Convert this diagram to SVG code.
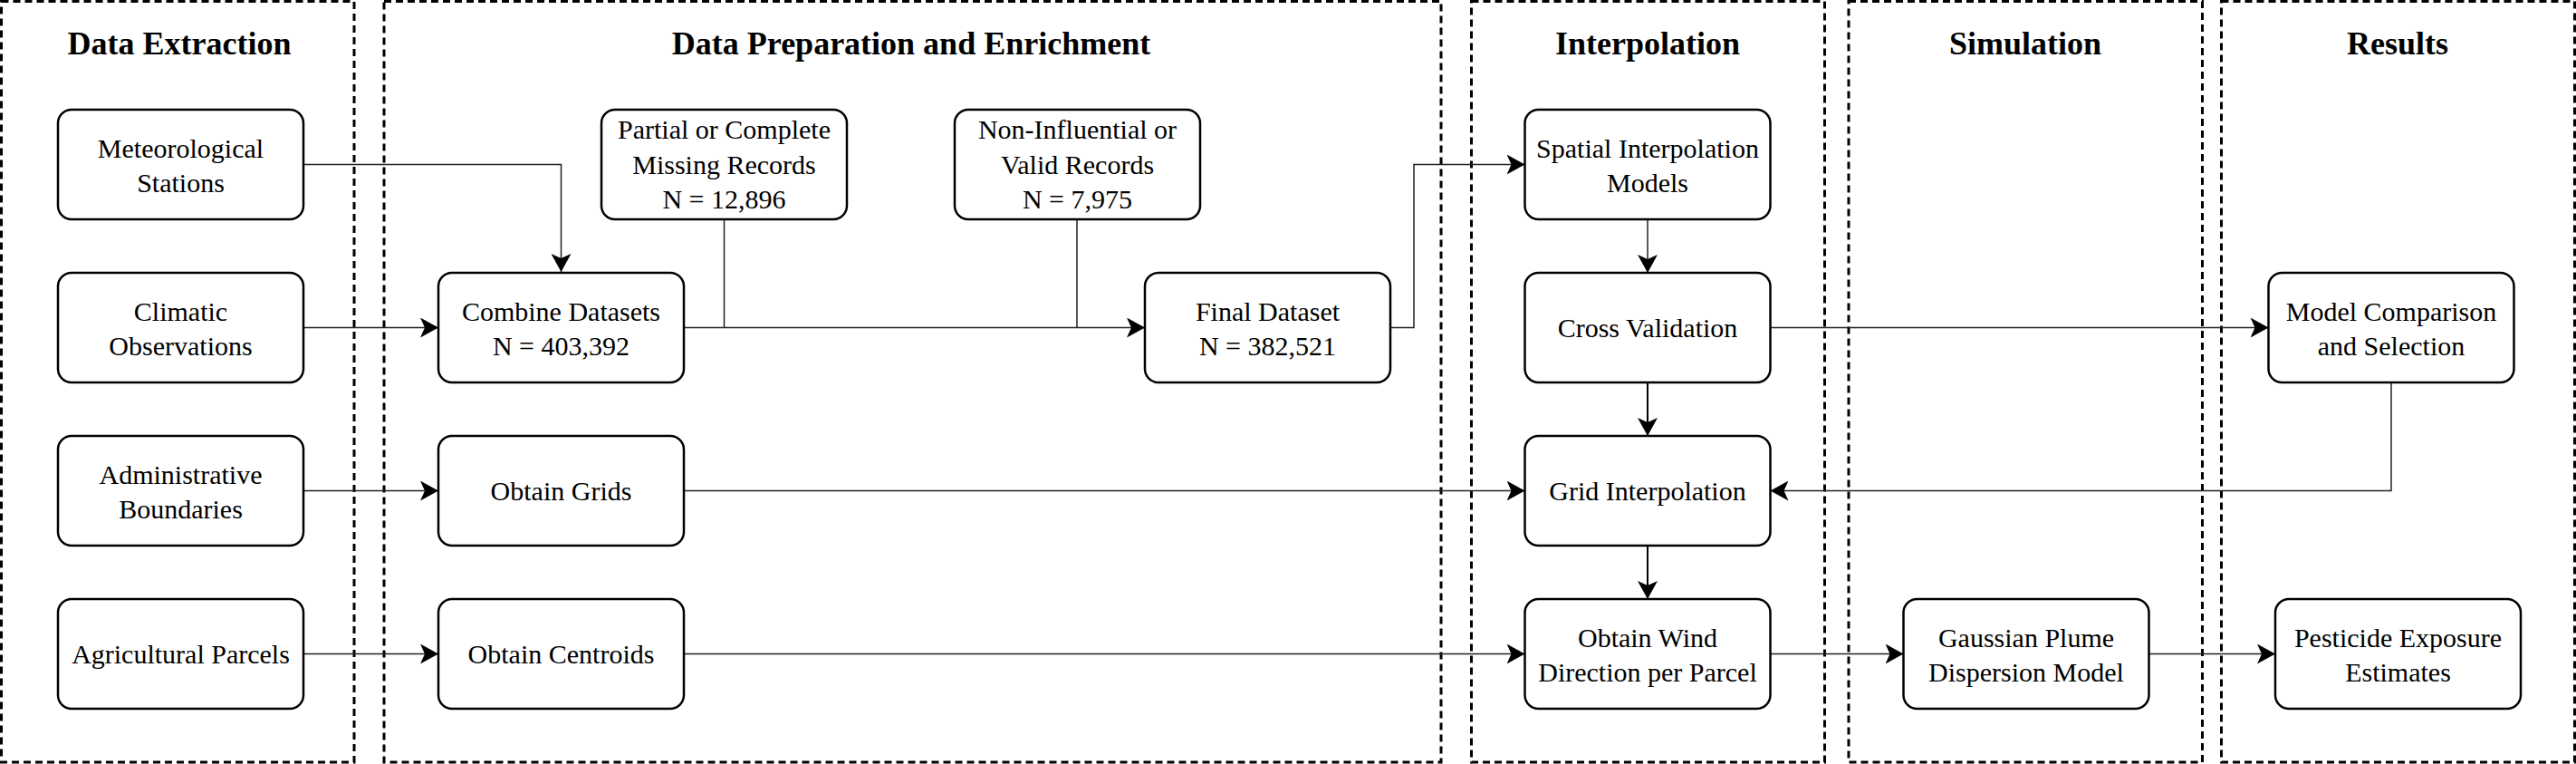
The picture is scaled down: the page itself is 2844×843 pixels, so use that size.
<svg xmlns="http://www.w3.org/2000/svg" width="2844" height="843" viewBox="0 0 2844 843">
<style>
.lane{fill:none;stroke:#000;stroke-width:3;stroke-dasharray:8 5}
.title{font-family:"Liberation Serif","Times New Roman",serif;font-weight:bold;font-size:36px;fill:#000;text-anchor:middle}
.box{fill:#fff;stroke:#000;stroke-width:2.5}
.lbl{font-family:"Liberation Serif","Times New Roman",serif;font-size:30px;fill:#000;text-anchor:middle}
.edge{fill:none;stroke:#222;stroke-width:1.5}
.edge.thick{stroke:#000;stroke-width:2}
</style>
<defs>
<marker id="arr" markerUnits="userSpaceOnUse" viewBox="0 0 20 22" refX="20" refY="11" markerWidth="20" markerHeight="22" orient="auto">
<path d="M0,0 L20,11 L0,22 L5,11 Z" fill="#000"/>
</marker>
</defs>
<rect width="2844" height="843" fill="#fff"/>
<g id="lanes">
<g id="lane-extraction"><rect class="lane" x="1.5" y="1.5" width="389.5" height="839.5"/><text class="title" x="198" y="60">Data Extraction</text></g>
<g id="lane-preparation"><rect class="lane" x="424" y="1.5" width="1167" height="839.5"/><text class="title" x="1006" y="60">Data Preparation and Enrichment</text></g>
<g id="lane-interpolation"><rect class="lane" x="1624.5" y="1.5" width="390" height="839.5"/><text class="title" x="1819" y="60">Interpolation</text></g>
<g id="lane-simulation"><rect class="lane" x="2041" y="1.5" width="390.5" height="839.5"/><text class="title" x="2236" y="60">Simulation</text></g>
<g id="lane-results"><rect class="lane" x="2452.5" y="1.5" width="390" height="839.5"/><text class="title" x="2647" y="60">Results</text></g>
</g>
<g id="connectors">
<path class="edge" d="M335,181.5 H619.5 V300" marker-end="url(#arr)"/>
<path class="edge" d="M335,361.5 H484" marker-end="url(#arr)"/>
<path class="edge" d="M335,541.5 H484" marker-end="url(#arr)"/>
<path class="edge" d="M335,721.5 H484" marker-end="url(#arr)"/>
<path class="edge" d="M755,361.5 H1264" marker-end="url(#arr)"/>
<path class="edge" d="M799.5,242 V361.5"/>
<path class="edge" d="M1189,242 V361.5"/>
<path class="edge" d="M1535,361.5 H1561 V181.5 H1683.5" marker-end="url(#arr)"/>
<path class="edge" d="M1819,242 V301" marker-end="url(#arr)"/>
<path class="edge thick" d="M1819,422 V481" marker-end="url(#arr)"/>
<path class="edge thick" d="M1819,602 V661" marker-end="url(#arr)"/>
<path class="edge" d="M755,541.5 H1683.5" marker-end="url(#arr)"/>
<path class="edge" d="M755,721.5 H1683.5" marker-end="url(#arr)"/>
<path class="edge" d="M1954.5,361.5 H2504.5" marker-end="url(#arr)"/>
<path class="edge" d="M2640,422 V541.5 H1954.5" marker-end="url(#arr)"/>
<path class="edge" d="M1954.5,721.5 H2101.5" marker-end="url(#arr)"/>
<path class="edge" d="M2372.5,721.5 H2512" marker-end="url(#arr)"/>
</g>
<g id="n-meteo"><rect class="box" x="64" y="121" width="271" height="121" rx="15"/><text class="lbl" x="199.5" y="174">Meteorological</text><text class="lbl" x="199.5" y="212">Stations</text></g>
<g id="n-climatic"><rect class="box" x="64" y="301" width="271" height="121" rx="15"/><text class="lbl" x="199.5" y="354">Climatic</text><text class="lbl" x="199.5" y="392">Observations</text></g>
<g id="n-admin"><rect class="box" x="64" y="481" width="271" height="121" rx="15"/><text class="lbl" x="199.5" y="534">Administrative</text><text class="lbl" x="199.5" y="572">Boundaries</text></g>
<g id="n-agri"><rect class="box" x="64" y="661" width="271" height="121" rx="15"/><text class="lbl" x="199.5" y="732">Agricultural Parcels</text></g>
<g id="n-combine"><rect class="box" x="484" y="301" width="271" height="121" rx="15"/><text class="lbl" x="619.5" y="354">Combine Datasets</text><text class="lbl" x="619.5" y="392">N = 403,392</text></g>
<g id="n-grids"><rect class="box" x="484" y="481" width="271" height="121" rx="15"/><text class="lbl" x="619.5" y="552">Obtain Grids</text></g>
<g id="n-centroids"><rect class="box" x="484" y="661" width="271" height="121" rx="15"/><text class="lbl" x="619.5" y="732">Obtain Centroids</text></g>
<g id="n-partial"><rect class="box" x="664" y="121" width="271" height="121" rx="15"/><text class="lbl" x="799.5" y="153">Partial or Complete</text><text class="lbl" x="799.5" y="191.5">Missing Records</text><text class="lbl" x="799.5" y="230">N = 12,896</text></g>
<g id="n-noninf"><rect class="box" x="1054" y="121" width="271" height="121" rx="15"/><text class="lbl" x="1189.5" y="153">Non-Influential or</text><text class="lbl" x="1189.5" y="191.5">Valid Records</text><text class="lbl" x="1189.5" y="230">N = 7,975</text></g>
<g id="n-final"><rect class="box" x="1264" y="301" width="271" height="121" rx="15"/><text class="lbl" x="1399.5" y="354">Final Dataset</text><text class="lbl" x="1399.5" y="392">N = 382,521</text></g>
<g id="n-spatial"><rect class="box" x="1683.5" y="121" width="271" height="121" rx="15"/><text class="lbl" x="1819" y="174">Spatial Interpolation</text><text class="lbl" x="1819" y="212">Models</text></g>
<g id="n-cross"><rect class="box" x="1683.5" y="301" width="271" height="121" rx="15"/><text class="lbl" x="1819" y="372">Cross Validation</text></g>
<g id="n-grid"><rect class="box" x="1683.5" y="481" width="271" height="121" rx="15"/><text class="lbl" x="1819" y="552">Grid Interpolation</text></g>
<g id="n-wind"><rect class="box" x="1683.5" y="661" width="271" height="121" rx="15"/><text class="lbl" x="1819" y="714">Obtain Wind</text><text class="lbl" x="1819" y="752">Direction per Parcel</text></g>
<g id="n-gaussian"><rect class="box" x="2101.5" y="661" width="271" height="121" rx="15"/><text class="lbl" x="2237" y="714">Gaussian Plume</text><text class="lbl" x="2237" y="752">Dispersion Model</text></g>
<g id="n-model"><rect class="box" x="2504.5" y="301" width="271" height="121" rx="15"/><text class="lbl" x="2640" y="354">Model Comparison</text><text class="lbl" x="2640" y="392">and Selection</text></g>
<g id="n-pesticide"><rect class="box" x="2512" y="661" width="271" height="121" rx="15"/><text class="lbl" x="2647.5" y="714">Pesticide Exposure</text><text class="lbl" x="2647.5" y="752">Estimates</text></g>
</svg>
